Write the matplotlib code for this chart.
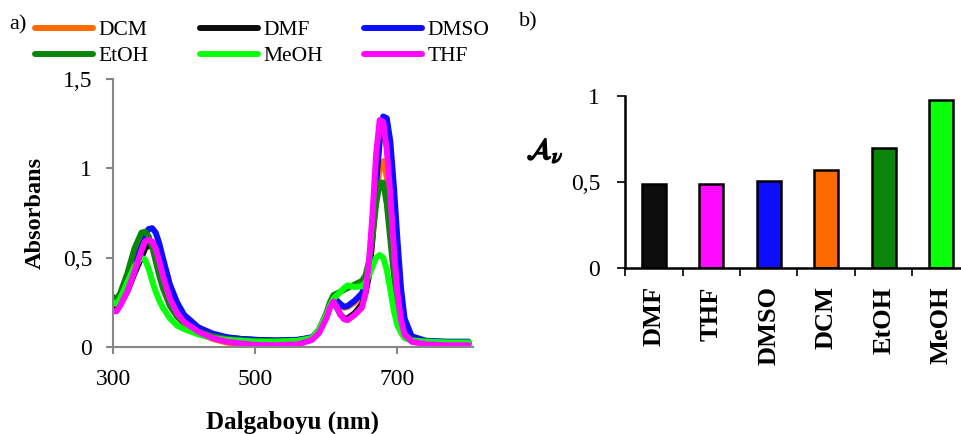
import matplotlib
matplotlib.use('Agg')
import matplotlib.pyplot as plt
import matplotlib.patheffects as pe
from matplotlib.lines import Line2D

plt.rcParams['font.family'] = ['Liberation Serif', 'DejaVu Serif']

# wavelength grid (nm)
wl = [300, 305, 310, 320, 330, 340, 345, 350, 355, 360, 365, 370, 380, 390, 400, 420, 440, 460, 480, 500, 530, 560,
      580, 590, 600, 605, 610, 615, 620, 625, 630, 640, 650, 655,
      660, 665, 670, 675, 680, 685, 690, 695, 700, 705, 710, 720, 740, 770, 800]

dcm = [0.22, 0.21, 0.24, 0.32, 0.43, 0.54, 0.59, 0.60, 0.58, 0.53, 0.46, 0.38, 0.26, 0.18, 0.13, 0.08, 0.045, 0.025, 0.012, 0.005, 0.005, 0.012,
       0.05, 0.09, 0.17, 0.23, 0.26, 0.24, 0.23, 0.22, 0.225, 0.25, 0.29, 0.33,
       0.40, 0.60, 0.85, 1.00, 1.04, 0.95, 0.75, 0.50, 0.28, 0.14, 0.07, 0.03, 0.02, 0.015, 0.015]
dmf = [0.23, 0.22, 0.24, 0.31, 0.41, 0.50, 0.55, 0.57, 0.56, 0.52, 0.46, 0.39, 0.28, 0.20, 0.15, 0.095, 0.068, 0.052, 0.045, 0.04, 0.036, 0.04,
       0.05, 0.09, 0.17, 0.23, 0.26, 0.22, 0.18, 0.16, 0.16, 0.19, 0.24, 0.30,
       0.40, 0.62, 0.92, 1.15, 1.22, 1.15, 0.95, 0.65, 0.38, 0.19, 0.09, 0.04, 0.025, 0.02, 0.02]
dmso = [0.26, 0.25, 0.28, 0.36, 0.47, 0.58, 0.63, 0.66, 0.665, 0.64, 0.58, 0.50, 0.35, 0.25, 0.18, 0.11, 0.075, 0.055, 0.045, 0.04, 0.036, 0.04,
        0.055, 0.095, 0.17, 0.23, 0.27, 0.26, 0.24, 0.225, 0.23, 0.26, 0.30, 0.36,
        0.45, 0.65, 0.95, 1.18, 1.29, 1.28, 1.15, 0.90, 0.60, 0.33, 0.16, 0.06, 0.035, 0.03, 0.03]
etoh = [0.28, 0.27, 0.30, 0.41, 0.55, 0.64, 0.645, 0.62, 0.56, 0.48, 0.40, 0.33, 0.23, 0.17, 0.13, 0.085, 0.06, 0.045, 0.038, 0.033, 0.03, 0.035,
        0.05, 0.10, 0.19, 0.25, 0.29, 0.30, 0.31, 0.32, 0.33, 0.35, 0.37, 0.40,
        0.48, 0.62, 0.80, 0.92, 0.92, 0.80, 0.60, 0.40, 0.22, 0.12, 0.07, 0.04, 0.03, 0.025, 0.025]
meoh = [0.25, 0.24, 0.27, 0.36, 0.45, 0.50, 0.49, 0.44, 0.37, 0.31, 0.26, 0.22, 0.16, 0.12, 0.10, 0.07, 0.05, 0.04, 0.035, 0.03, 0.03, 0.035,
        0.05, 0.10, 0.18, 0.23, 0.27, 0.29, 0.31, 0.33, 0.345, 0.335, 0.34, 0.36,
        0.40, 0.45, 0.50, 0.515, 0.50, 0.43, 0.32, 0.20, 0.12, 0.08, 0.05, 0.035, 0.03, 0.025, 0.025]
thf = [0.20, 0.20, 0.23, 0.31, 0.42, 0.54, 0.59, 0.60, 0.59, 0.55, 0.48, 0.40, 0.27, 0.19, 0.14, 0.085, 0.05, 0.03, 0.02, 0.012, 0.01, 0.015,
       0.04, 0.08, 0.16, 0.22, 0.255, 0.22, 0.18, 0.155, 0.15, 0.18, 0.22, 0.30,
       0.48, 0.75, 1.08, 1.27, 1.26, 1.10, 0.85, 0.55, 0.30, 0.15, 0.07, 0.03, 0.015, 0.01, 0.01]

solvents = ['DCM', 'DMF', 'DMSO', 'EtOH', 'MeOH', 'THF']
spectra = [dcm, dmf, dmso, etoh, meoh, thf]
colors = {'DCM': '#ff6a00', 'DMF': '#0d0d0d', 'DMSO': '#0d0dff',
          'EtOH': '#0a850a', 'MeOH': '#0aff0a', 'THF': '#ff0aff'}

# panel b
bar_names = ['DMF', 'THF', 'DMSO', 'DCM', 'EtOH', 'MeOH']
bar_vals = [0.49, 0.49, 0.507, 0.571, 0.699, 0.973]

fig = plt.figure(figsize=(9.62, 4.34), dpi=100)

# ---- a) spectra
ax = fig.add_axes([0.1175, 0.2005, 0.374, 0.6175])
for name, y in zip(solvents, spectra):
    ax.plot(wl, y, color=colors[name], lw=4.3, solid_joinstyle='round',
            solid_capstyle='round', label=name)
ax.set_xlim(300, 806)
ax.set_ylim(0, 1.5)
ax.set_xticks([300, 500, 700])
ax.set_yticks([0, 0.5, 1, 1.5])
ax.set_yticklabels(['0', '0,5', '1', '1,5'])
for s in ['top', 'right']:
    ax.spines[s].set_visible(False)
for s in ['left', 'bottom']:
    ax.spines[s].set_color('#868686')
    ax.spines[s].set_linewidth(1.5)
ax.tick_params(colors='#868686', labelcolor='black', labelsize=17, width=1.5, length=5)
ax.tick_params(axis='y', pad=10)
ax.tick_params(axis='x', pad=11)
ax.set_xlabel('Dalgaboyu (nm)', fontsize=18, fontweight='bold', labelpad=15)
ax.set_ylabel('Absorbans', fontsize=17.5, fontweight='bold', labelpad=12)

# legend: three columns, placed like the original
handles = {n: Line2D([], [], color=colors[n], lw=4.3, solid_capstyle='round') for n in solvents}
cols = [('DCM', 'EtOH'), ('DMF', 'MeOH'), ('DMSO', 'THF')]
col_x = [35, 200, 364]
for (n1, n2), x0 in zip(cols, col_x):
    fig.legend([handles[n1], handles[n2]], [n1, n2], loc='upper left',
               bbox_to_anchor=(x0 / 962, 1 - 20 / 434), frameon=False,
               fontsize=15.5, handlelength=2.7, handletextpad=0.25,
               labelspacing=0.28, borderaxespad=0, borderpad=0)

fig.text(0.010, 1 - 25 / 434, 'a)', fontsize=16, va='center')
fig.text(0.540, 1 - 22 / 434, 'b)', fontsize=16, va='center')

# ---- b) bars
bx = fig.add_axes([0.6497, 0.3818, 0.3586, 0.3977])
xs = range(len(bar_names))
bx.bar(xs, bar_vals, width=0.42, color=[colors[n] for n in bar_names],
       edgecolor='black', linewidth=1.8)
bx.set_xlim(-0.5, 5.5)
bx.set_ylim(0, 1)
bx.set_yticks([0, 0.5, 1])
bx.set_yticklabels(['0', '0,5', '1'])
bx.set_xticks([i - 0.5 for i in xs])
bx.set_xticklabels([])
bx.set_xticks(list(xs), minor=True)
bx.set_xticklabels(bar_names, minor=True, rotation=90, fontweight='bold', fontsize=19)
bx.tick_params(axis='x', which='minor', length=0, pad=13)
bx.tick_params(axis='both', which='major', length=6, width=1.2, labelsize=17)
bx.tick_params(axis='y', pad=12)
for s in ['top', 'right']:
    bx.spines[s].set_visible(False)
for s in ['left', 'bottom']:
    bx.spines[s].set_linewidth(1.8)
fig.text(545 / 962, 1 - 151 / 434, r'$\mathcal{A}_{\nu}$', fontsize=21,
         math_fontfamily='stix', ha='center', va='center',
         path_effects=[pe.withStroke(linewidth=1.2, foreground='black')])

fig.savefig('out.png', dpi=100)
